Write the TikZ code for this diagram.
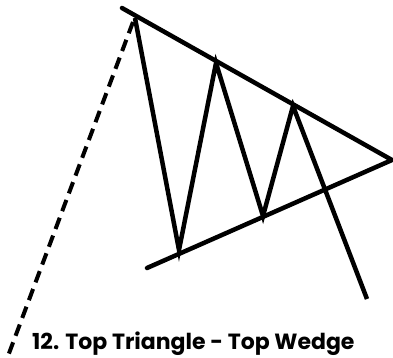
\documentclass[tikz,border=0pt]{standalone}
\usepackage{fontspec}
\setmainfont{Poppins}[BoldFont={* Bold}]
\usetikzlibrary{positioning}

\begin{document}
\begin{tikzpicture}[x=1pt, y=-1pt,
  trend/.style={line width=4.5pt, line cap=round},
  swing/.style={line width=4.5pt, line join=miter},
  guide/.style={line width=4pt, dash pattern=on 12pt off 7pt},
  title/.style={anchor=base west, inner sep=0pt, font=\fontsize{22}{26}\selectfont\bfseries}
]
\useasboundingbox (0,0) rectangle (393,357);
\coordinate (hi) at (122,8);
\coordinate (apex) at (392,160);
\coordinate (lo) at (147,268);
\coordinate (p0) at (135,18);
\coordinate (p1) at (179,250);
\coordinate (p2) at (216,63);
\coordinate (p3) at (263,216);
\coordinate (p4) at (293,106);
\coordinate (p5) at (367,299);
\coordinate (gs) at (133,22);
\coordinate (ge) at (8,356);

\draw[trend] (hi) -- (apex) -- (lo);
\draw[swing] (p0) -- (p1) -- (p2) -- (p3) -- (p4) -- (p5);
\draw[guide] (gs) -- (ge);
\node[title] (cap) at (32,349) {12. Top Triangle - Top Wedge};
\end{tikzpicture}
\end{document}
